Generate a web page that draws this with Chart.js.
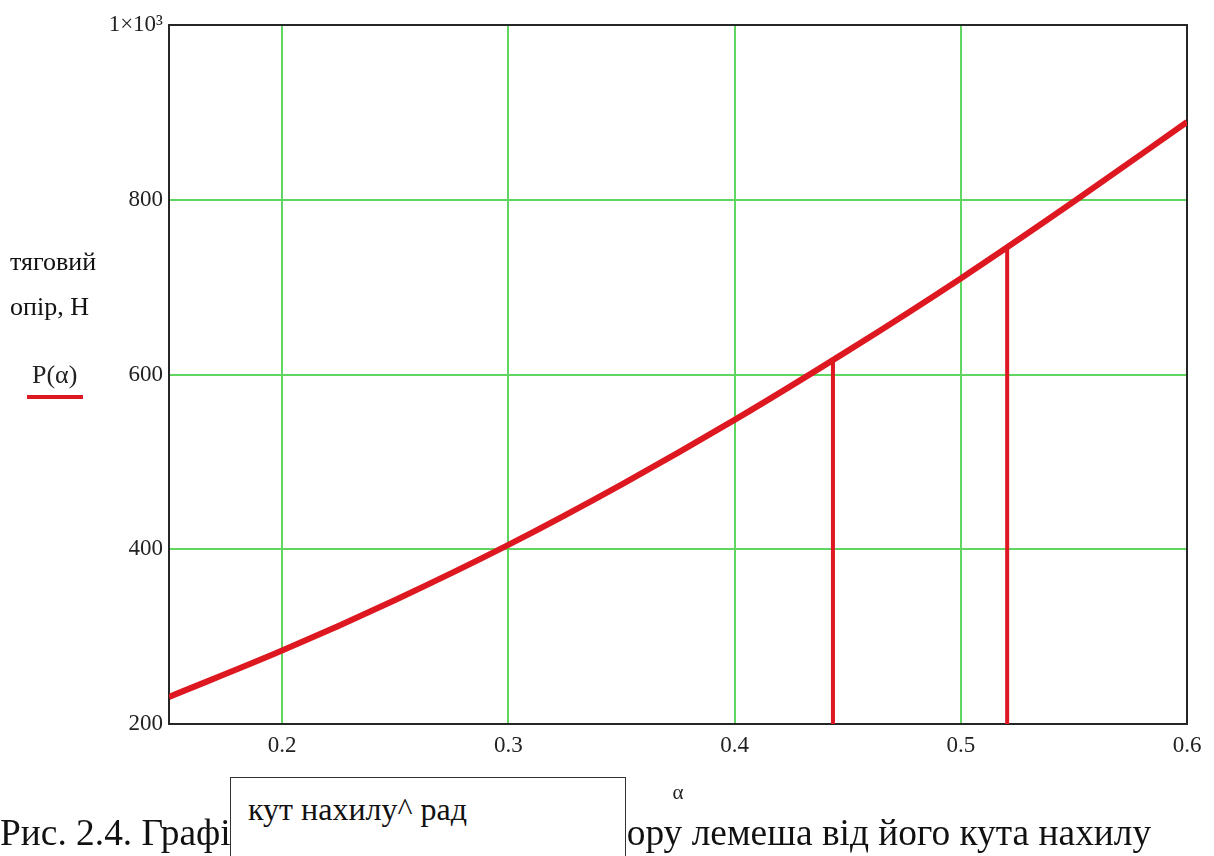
<!DOCTYPE html>
<html lang="uk">
<head>
<meta charset="utf-8">
<title>Тяговий опір лемеша</title>
<script src="https://cdn.jsdelivr.net/npm/chart.js@4.4.1/dist/chart.umd.min.js"></script>
<style>
  html, body { margin: 0; padding: 0; background: #fff; }
  body { width: 1214px; height: 856px; position: relative; overflow: hidden; }
  #wrap { position: absolute; left: 0; top: 0; width: 1214px; height: 856px; }
  #caption {
    position: absolute; left: 0; top: 814px; white-space: nowrap;
    font: 37.4px/1 "Liberation Serif", "Times New Roman", serif; color: #111;
  }
  #unitBox {
    position: absolute; left: 230px; top: 777px; width: 396px; height: 100px;
    background: #fff; border: 1.5px solid #333; box-sizing: border-box;
  }
  #unitBox span {
    position: absolute; left: 17px; top: 15px; white-space: nowrap;
    font: 32px/1 "Liberation Serif", "Times New Roman", serif; color: #111;
  }
</style>
</head>
<body>
<div id="wrap"><canvas id="chart" width="1214" height="856"></canvas></div>
<div id="caption">Рис. 2.4. Графік залежності тягового опору лемеша від його кута нахилу</div>
<div id="unitBox"><span>кут нахилу^ рад</span></div>
<script>
// Кут нахилу лемеша α, рад, і тяговий опір P(α), Н
const alphaRad = [0.15, 0.2, 0.25, 0.3, 0.35, 0.4, 0.45, 0.5, 0.55, 0.6];
const resistanceN = [231, 284, 342, 405, 474, 548, 627, 710, 798, 889];

// Позначені робочі кути та відповідні значення опору
const markAlpha = [0.4435, 0.5205];
const markP = [617, 746];

// Поділки осей
const xTickValues = [0.2, 0.3, 0.4, 0.5, 0.6];
const yTickValues = [200, 400, 600, 800, 1000];
const xRange = [0.15, 0.6];
const yRange = [200, 1000];

// Підписи
const yAxisLines = ['тяговий', 'опір, Н'];
const seriesName = 'P(α)';
const xAxisName = 'α';

const RED = 'rgb(222, 24, 32)';
const GRID = 'rgb(96, 214, 96)';
const FRAME = '#262626';
const LABEL = '#222';
const SERIF = '"Liberation Serif", "Times New Roman", serif';

const curve = alphaRad.map((a, i) => ({ x: a, y: resistanceN[i] }));
const markSets = markAlpha.map((a, i) => ({
  type: 'line',
  data: [{ x: a, y: yRange[0] }, { x: a, y: markP[i] }],
  borderColor: RED,
  borderWidth: 4,
  pointRadius: 0,
  borderCapStyle: 'butt'
}));

// Підпис осі ординат і зразок лінії серії ліворуч від графіка
const sideLabels = {
  id: 'sideLabels',
  afterDraw(chart) {
    const ctx = chart.ctx;
    ctx.save();
    ctx.fillStyle = '#111';
    ctx.font = '26px ' + SERIF;
    ctx.textBaseline = 'middle';
    ctx.textAlign = 'left';
    ctx.fillText(yAxisLines[0], 10, 263);
    ctx.fillText(yAxisLines[1], 10, 308);
    ctx.font = '26px ' + SERIF;
    ctx.fillStyle = LABEL;
    ctx.fillText(seriesName, 32, 376);
    ctx.strokeStyle = chart.data.datasets[0].borderColor;
    ctx.lineWidth = 4;
    ctx.beginPath();
    ctx.moveTo(27, 397);
    ctx.lineTo(83, 397);
    ctx.stroke();
    ctx.restore();
  }
};

const edgeAxis = (position) => ({
  type: 'linear',
  position,
  display: true,
  ticks: { display: false },
  grid: { display: true, drawOnChartArea: false, drawTicks: false },
  border: { display: true, color: FRAME, width: 2 },
  afterFit(scale) {
    if (position === 'top') scale.height = 0; else scale.width = 0;
  }
});

new Chart(document.getElementById('chart'), {
  type: 'line',
  data: {
    datasets: [
      {
        data: curve,
        borderColor: RED,
        borderWidth: 6,
        pointRadius: 0,
        cubicInterpolationMode: 'monotone'
      },
      ...markSets
    ]
  },
  options: {
    responsive: false,
    animation: false,
    layout: { padding: { left: 0, top: 25, right: 27, bottom: 0 } },
    plugins: { legend: { display: false }, tooltip: { enabled: false } },
    scales: {
      x: {
        type: 'linear',
        position: 'bottom',
        min: xRange[0],
        max: xRange[1],
        afterBuildTicks(scale) { scale.ticks = xTickValues.map(v => ({ value: v })); },
        afterFit(scale) { scale.height = 856 - 724; },
        ticks: {
          padding: 8,
          color: LABEL,
          font: { family: SERIF, size: 23 },
          callback: v => String(v)
        },
        grid: {
          drawTicks: false,
          lineWidth: 2,
          color: c => (c.tick && c.tick.value >= xRange[1]) ? 'rgba(0,0,0,0)' : GRID
        },
        border: { display: true, color: FRAME, width: 2 },
        title: {
          display: true,
          text: xAxisName,
          color: LABEL,
          font: { family: SERIF, size: 21 },
          padding: { top: 0, bottom: 50 }
        }
      },
      y: {
        type: 'linear',
        position: 'left',
        min: yRange[0],
        max: yRange[1],
        afterBuildTicks(scale) { scale.ticks = yTickValues.map(v => ({ value: v })); },
        afterFit(scale) { scale.width = 169; },
        ticks: {
          padding: 6,
          color: LABEL,
          font: { family: SERIF, size: 23 },
          callback: v => (v === 1000 ? '1×10³' : String(v))
        },
        grid: {
          drawTicks: false,
          lineWidth: 2,
          color: c => (c.tick && (c.tick.value <= yRange[0] || c.tick.value >= yRange[1])) ? 'rgba(0,0,0,0)' : GRID
        },
        border: { display: true, color: FRAME, width: 2 }
      },
      xTop: edgeAxis('top'),
      yRight: edgeAxis('right')
    }
  },
  plugins: [sideLabels]
});
</script>
</body>
</html>
